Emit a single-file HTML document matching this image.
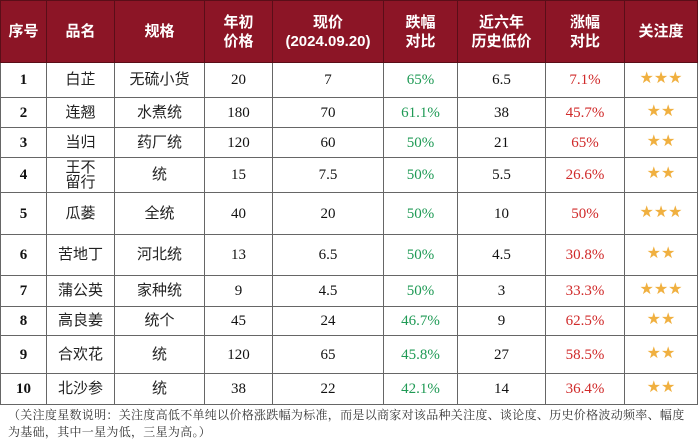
<!DOCTYPE html>
<html><head><meta charset="utf-8"><style>
body{margin:0;width:698px;height:445px;background:#fff;overflow:hidden;font-family:"Liberation Serif","Noto Sans CJK SC",serif;}
table{position:absolute;left:0;top:0;border-collapse:collapse;table-layout:fixed;width:697px;}
td,th{border:1.5px solid #666;text-align:center;padding:0;font-size:15px;color:#111;font-weight:normal;line-height:18px;}
th{background:#8c1526;color:#fff;font-family:"Liberation Sans","Noto Sans CJK SC",sans-serif;font-weight:bold;font-size:15px;line-height:19px;border-color:#5a0e18;}
td.n{font-weight:bold;}
td.c{font-family:"Liberation Sans","Noto Sans CJK SC",sans-serif;color:#222;}
td.g{color:#1f9a55;}
td.r{color:#d02a2a;}
td.s{color:#f0b040;font-family:"DejaVu Sans",sans-serif;font-size:16px;line-height:16px;letter-spacing:0px;}
td.s span{display:inline-block;position:relative;top:-2px;}
.note{position:absolute;left:8px;top:407px;width:680px;font-size:12px;line-height:17px;letter-spacing:0.3px;color:#333;font-family:"Liberation Serif","Noto Serif CJK SC",serif;}
</style></head><body>
<table>
<colgroup><col style="width:46px"><col style="width:68px"><col style="width:90px"><col style="width:68px"><col style="width:111px"><col style="width:74px"><col style="width:88px"><col style="width:79px"><col style="width:73px"></colgroup>
<tr style="height:62px"><th>序号</th><th>品名</th><th>规格</th><th>年初<br>价格</th><th>现价<br>(2024.09.20)</th><th>跌幅<br>对比</th><th>近六年<br>历史低价</th><th>涨幅<br>对比</th><th>关注度</th></tr>
<tr style="height:35px"><td class="n">1</td><td class="c">白芷</td><td class="c">无硫小货</td><td>20</td><td>7</td><td class="g">65%</td><td>6.5</td><td class="r">7.1%</td><td class="s"><span>★★★</span></td></tr>
<tr style="height:30px"><td class="n">2</td><td class="c">连翘</td><td class="c">水煮统</td><td>180</td><td>70</td><td class="g">61.1%</td><td>38</td><td class="r">45.7%</td><td class="s"><span>★★</span></td></tr>
<tr style="height:30px"><td class="n">3</td><td class="c">当归</td><td class="c">药厂统</td><td>120</td><td>60</td><td class="g">50%</td><td>21</td><td class="r">65%</td><td class="s"><span>★★</span></td></tr>
<tr style="height:35px"><td class="n">4</td><td class="c" style="line-height:15px">王不<br>留行</td><td class="c">统</td><td>15</td><td>7.5</td><td class="g">50%</td><td>5.5</td><td class="r">26.6%</td><td class="s"><span>★★</span></td></tr>
<tr style="height:42px"><td class="n">5</td><td class="c">瓜蒌</td><td class="c">全统</td><td>40</td><td>20</td><td class="g">50%</td><td>10</td><td class="r">50%</td><td class="s"><span>★★★</span></td></tr>
<tr style="height:41px"><td class="n">6</td><td class="c">苦地丁</td><td class="c">河北统</td><td>13</td><td>6.5</td><td class="g">50%</td><td>4.5</td><td class="r">30.8%</td><td class="s"><span>★★</span></td></tr>
<tr style="height:31px"><td class="n">7</td><td class="c">蒲公英</td><td class="c">家种统</td><td>9</td><td>4.5</td><td class="g">50%</td><td>3</td><td class="r">33.3%</td><td class="s"><span>★★★</span></td></tr>
<tr style="height:29px"><td class="n">8</td><td class="c">高良姜</td><td class="c">统个</td><td>45</td><td>24</td><td class="g">46.7%</td><td>9</td><td class="r">62.5%</td><td class="s"><span>★★</span></td></tr>
<tr style="height:38px"><td class="n">9</td><td class="c">合欢花</td><td class="c">统</td><td>120</td><td>65</td><td class="g">45.8%</td><td>27</td><td class="r">58.5%</td><td class="s"><span>★★</span></td></tr>
<tr style="height:31px"><td class="n">10</td><td class="c">北沙参</td><td class="c">统</td><td>38</td><td>22</td><td class="g">42.1%</td><td>14</td><td class="r">36.4%</td><td class="s"><span>★★</span></td></tr>
</table>
<div class="note">（关注度星数说明：关注度高低不单纯以价格涨跌幅为标准，而是以商家对该品种关注度、谈论度、历史价格波动频率、幅度<br>为基础，其中一星为低，三星为高。）</div>
</body></html>
